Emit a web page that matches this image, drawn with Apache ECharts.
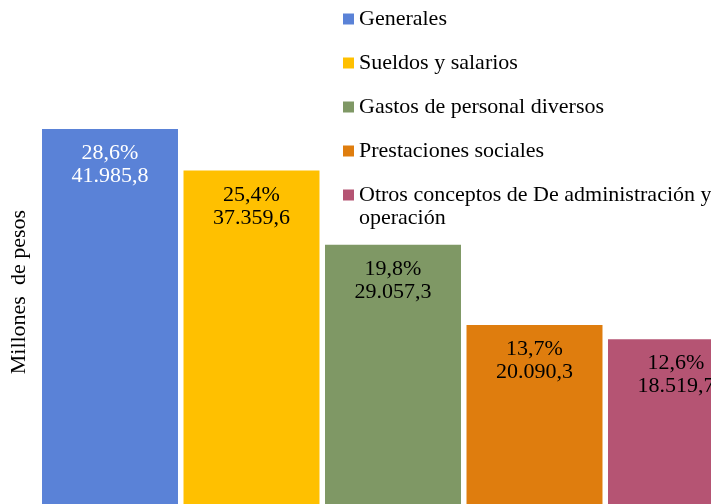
<!DOCTYPE html>
<html>
<head>
<meta charset="utf-8">
<script src="https://cdn.jsdelivr.net/npm/echarts@6/dist/echarts.min.js"></script>
<style>html,body{margin:0;padding:0;background:#fff}#c{width:711px;height:504px}</style>
</head>
<body>
<div id="c"></div>
<script>
var categories = ['Generales', 'Sueldos y salarios', 'Gastos de personal diversos', 'Prestaciones sociales', 'Otros conceptos de De administración y operación'];
var values = [41985.8, 37359.6, 29057.3, 20090.3, 18519.7];
var shares = ['28,6%', '25,4%', '19,8%', '13,7%', '12,6%'];
var colors = ['#5A82D7', '#FFC000', '#7F9865', '#DF7D0E', '#B55473'];
var labelColors = ['#ffffff', '#000000', '#000000', '#000000', '#000000'];

function fmt(v) {
  var p = v.toFixed(1).split('.');
  return p[0].replace(/\B(?=(\d{3})+(?!\d))/g, '.') + ',' + p[1];
}

var FONT = 'Liberation Serif, Times New Roman, serif';
var FS = 22;
var series = categories.map(function (name, i) {
  var d = categories.map(function (c, j) { return j === i ? values[i] : null; });
  return {
    name: name,
    type: 'bar',
    stack: 'all',
    barCategoryGap: '3.9%',
    itemStyle: { color: colors[i] },
    label: {
      show: true,
      position: 'insideTop',
      distance: 13,
      color: labelColors[i],
      fontFamily: FONT,
      fontSize: FS,
      lineHeight: 23,
      formatter: function () { return shares[i] + '\n' + fmt(values[i]); }
    },
    data: d
  };
});

var legendText = { fontFamily: FONT, fontSize: FS, lineHeight: 23, color: '#000' };
var legendBase = {
  orient: 'vertical',
  left: 343,
  padding: 0,
  icon: 'rect',
  itemWidth: 11,
  itemHeight: 11,
  itemGap: 21,
  textStyle: legendText
};

var chart = echarts.init(document.getElementById('c'));
chart.setOption({
  animation: false,
  grid: { left: 39.25, right: -35.75, top: 57.2, bottom: -1, outerBoundsMode: 'none', containLabel: false },
  legend: [
    Object.assign({}, legendBase, { top: 7.5, data: categories.slice(0, 4) }),
    Object.assign({}, legendBase, {
      top: 160.5,
      data: [categories[4]],
      formatter: function (n) { return '\n' + n.replace(' operación', '\noperación'); }
    })
  ],
  xAxis: {
    type: 'category',
    data: categories,
    axisLine: { show: false },
    axisTick: { show: false },
    axisLabel: { show: false }
  },
  yAxis: {
    type: 'value',
    min: 0,
    max: 50000,
    name: 'Millones  de pesos',
    nameLocation: 'middle',
    nameGap: 9,
    nameTextStyle: { fontFamily: FONT, fontSize: FS, color: '#000', padding: [0, 22, 0, 0] },
    axisLine: { show: false },
    axisTick: { show: false },
    axisLabel: { show: false },
    splitLine: { show: false }
  },
  series: series
});
</script>
</body>
</html>
